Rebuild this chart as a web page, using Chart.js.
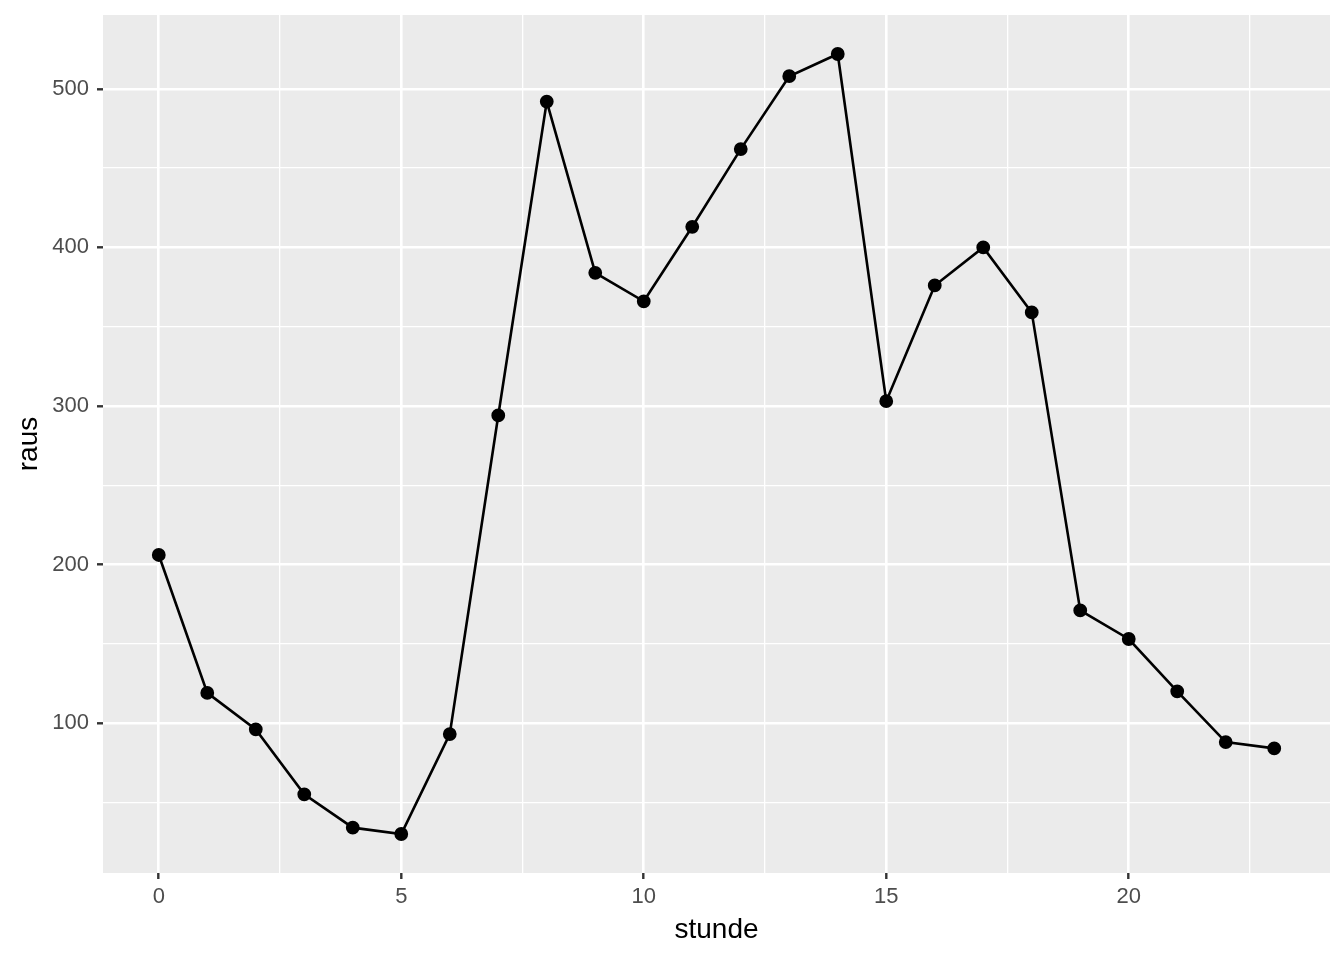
<!DOCTYPE html>
<html>
<head>
<meta charset="utf-8">
<script src="https://cdn.jsdelivr.net/npm/chart.js@4/dist/chart.umd.min.js"></script>
<style>
  html, body { margin: 0; padding: 0; background: #fff; }
  #wrap { width: 1344px; height: 960px; }
</style>
</head>
<body>
<div id="wrap"><canvas id="c" width="1344" height="960"></canvas></div>
<script>
const stunde = [0, 1, 2, 3, 4, 5, 6, 7, 8, 9, 10, 11, 12, 13, 14, 15, 16, 17, 18, 19, 20, 21, 22, 23];
const raus = [206, 119, 96, 55, 34, 30, 93, 294, 492, 384, 366, 413, 462, 508, 522, 303, 376, 400, 359, 171, 153, 120, 88, 84];
const xBreaks = [0, 5, 10, 15, 20];
const xMinor = [2.5, 7.5, 12.5, 17.5, 22.5];
const yBreaks = [100, 200, 300, 400, 500];
const yMinor = [50, 150, 250, 350, 450];

const FONT = "'Liberation Sans', Arial, Helvetica, sans-serif";

const panelBg = {
  id: "panelBg",
  beforeDraw(chart) {
    const a = chart.chartArea, ctx = chart.ctx;
    ctx.save();
    ctx.fillStyle = "#EBEBEB";
    ctx.fillRect(a.left, a.top, a.right - a.left, a.bottom - a.top);
    ctx.restore();
  },
};

const isMajor = (list) => (c) => c.tick && list.includes(c.tick.value);

function axis(breaks, minor, min, max, title, size, tickPad, titlePad) {
  const major = isMajor(breaks);
  return {
    type: "linear",
    min, max,
    afterBuildTicks: (s) => { s.ticks = breaks.concat(minor).sort((a, b) => a - b).map((v) => ({ value: v })); },
    afterFit: (s) => {
      if (s.isHorizontal()) s.height = size; else s.width = size;
      // let layout.padding alone decide the panel edges
      s.paddingTop = s.paddingBottom = s.paddingLeft = s.paddingRight = 0;
    },
    border: { display: false },
    grid: {
      color: "#FFFFFF",
      lineWidth: (c) => (major(c) ? 2.6 : 1.3),
      drawTicks: true,
      tickLength: 6,
      tickColor: (c) => (major(c) ? "#333333" : "rgba(0,0,0,0)"),
      tickWidth: 2.4,
    },
    ticks: {
      autoSkip: false,
      maxRotation: 0,
      padding: tickPad,
      color: "#4D4D4D",
      font: { family: FONT, size: 22 },
      callback: (v) => (breaks.includes(v) ? String(v) : ""),
    },
    title: {
      display: true,
      text: title,
      color: "#000000",
      font: { family: FONT, size: 28 },
      padding: titlePad,
    },
  };
}

new Chart(document.getElementById("c").getContext("2d"), {
  type: "scatter",
  data: {
    datasets: [{
      data: stunde.map((s, i) => ({ x: s, y: raus[i] })),
      showLine: true,
      borderColor: "#000000",
      borderWidth: 2.6,
      backgroundColor: "#000000",
      pointRadius: 5.6,
      pointHoverRadius: 5.6,
      tension: 0,
    }],
  },
  options: {
    responsive: false,
    animation: false,
    layout: { padding: { top: 15, right: 14, left: 0, bottom: 0 } },
    plugins: { legend: { display: false }, tooltip: { enabled: false } },
    scales: {
      x: axis(xBreaks, xMinor, -1.15, 24.15, "stunde", 87, 5, { top: 4, bottom: 13 }),
      y: axis(yBreaks, yMinor, 5.4, 546.6, "raus", 103, 8, { top: 12, bottom: 4 }),
    },
  },
  plugins: [panelBg],
});
</script>
</body>
</html>
